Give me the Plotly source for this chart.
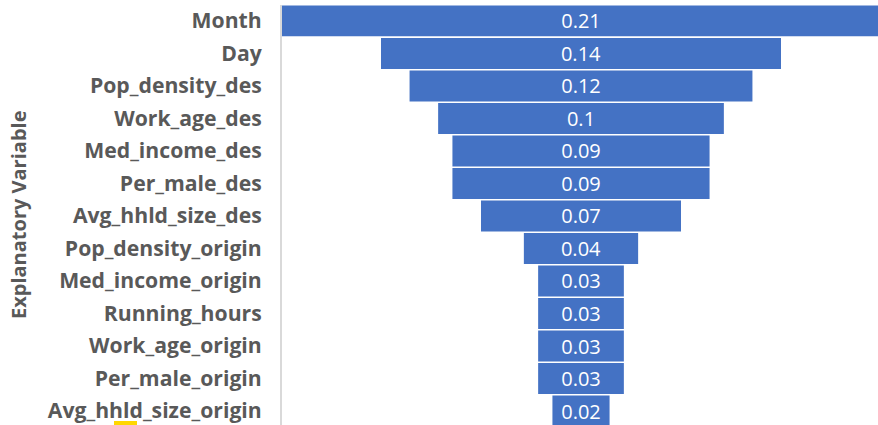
import plotly.graph_objects as go

# Importance of each explanatory variable
variables = [
    "Month", "Day", "Pop_density_des", "Work_age_des", "Med_income_des",
    "Per_male_des", "Avg_hhld_size_des", "Pop_density_origin",
    "Med_income_origin", "Running_hours", "Work_age_origin",
    "Per_male_origin", "Avg_hhld_size_origin",
]
importance = [0.21, 0.14, 0.12, 0.1, 0.09, 0.09, 0.07, 0.04, 0.03, 0.03, 0.03, 0.03, 0.02]

BAR_COLOR = "#4472C4"
LABEL_GREY = "#595959"

fig = go.Figure(
    go.Funnel(
        y=variables,
        x=importance,
        orientation="h",
        marker=dict(color=BAR_COLOR, line=dict(width=0)),
        connector=dict(visible=False),
        textinfo="value",
        textposition="inside",
        insidetextanchor="middle",
        textfont=dict(color="white", size=20, family="Open Sans"),
        constraintext="none",
        hoverinfo="skip",
    )
)

n = len(variables)
fig.update_layout(
    width=878,
    height=425,
    margin=dict(l=282, r=0, t=5, b=0),
    paper_bgcolor="white",
    plot_bgcolor="white",
    showlegend=False,
    funnelgap=0.05,
    xaxis=dict(visible=False, range=[-0.10465, 0.10395]),
    yaxis=dict(
        type="category",
        range=[n - 1 + 0.43, -0.49],
        autorange=False,
        showline=True,
        linecolor="#D9D9D9",
        linewidth=2,
        showgrid=False,
        ticks="",
        ticklabelstandoff=14,
        tickfont=dict(family="Open Sans", size=21.2, color=LABEL_GREY, weight="bold"),
    ),
    annotations=[
        dict(
            text="Explanatory Variable",
            xref="paper", yref="paper",
            x=(18 - 282) / 596, y=0.5,
            xanchor="center", yanchor="middle",
            textangle=-90,
            showarrow=False,
            font=dict(family="Open Sans", size=20, color=LABEL_GREY, weight="bold"),
        )
    ],
    shapes=[
        # proofing highlight under part of the last label
        dict(
            type="rect", xref="paper", yref="paper",
            x0=(114 - 282) / 596, x1=(137 - 282) / 596,
            y0=0.0, y1=4 / 420,
            fillcolor="#FFD700", line=dict(width=0),
        )
    ],
)

fig.write_html("out.html")
